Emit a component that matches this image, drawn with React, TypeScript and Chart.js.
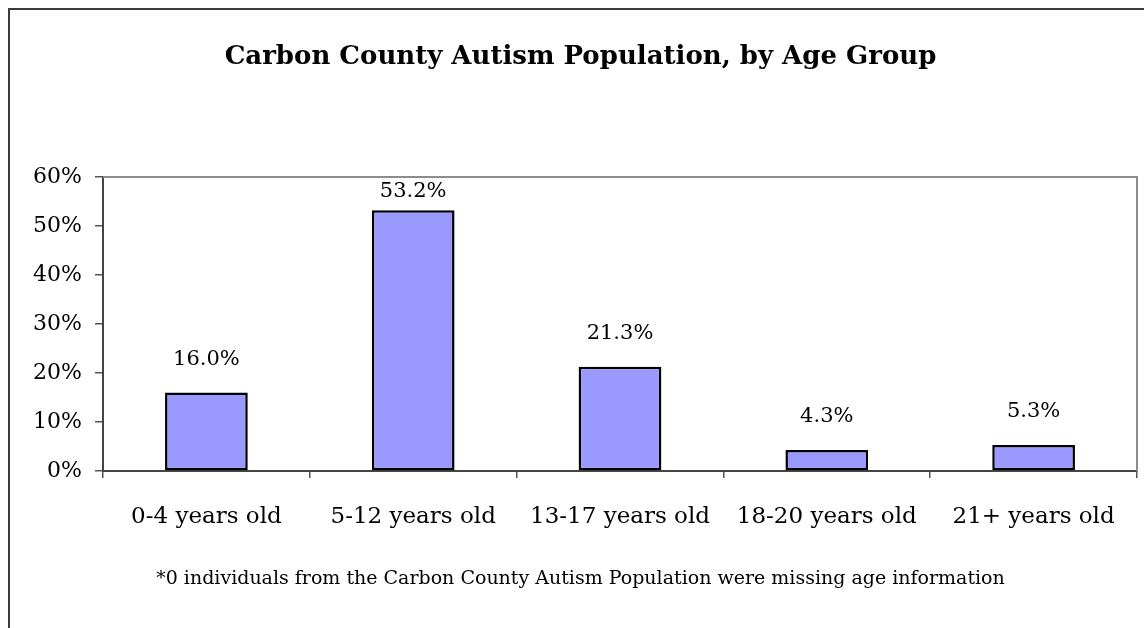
import React, { useEffect, useRef } from "react";
import { Chart, registerables } from "chart.js";

Chart.register(...registerables);

const TITLE = "Carbon County Autism Population, by Age Group";
const FOOTNOTE = "*0 individuals from the Carbon County Autism Population were missing age information";
const categories = ["0-4 years old", "5-12 years old", "13-17 years old", "18-20 years old", "21+ years old"];
const values = [16.0, 53.2, 21.3, 4.3, 5.3];
const valueLabels = ["16.0%", "53.2%", "21.3%", "4.3%", "5.3%"];
const yTicks = [0, 10, 20, 30, 40, 50, 60];

const FONT = "'DejaVu Serif', serif";

const frameAndLabels = {
  id: "frameAndLabels",
  afterDatasetsDraw(chart: any) {
    const { ctx, chartArea } = chart;
    ctx.save();
    ctx.strokeStyle = "#8c8c8c";
    ctx.lineWidth = 2;
    ctx.beginPath();
    ctx.moveTo(chartArea.left, chartArea.top);
    ctx.lineTo(chartArea.right, chartArea.top);
    ctx.lineTo(chartArea.right, chartArea.bottom);
    ctx.stroke();
    const meta = chart.getDatasetMeta(0);
    ctx.fillStyle = "#000";
    ctx.font = `21px ${FONT}`;
    ctx.textAlign = "center";
    ctx.textBaseline = "middle";
    meta.data.forEach((bar: any, i: number) => {
      const y = Math.max(bar.y - 33, chartArea.top + 15);
      ctx.fillText(valueLabels[i], bar.x, y);
    });
    ctx.restore();
  },
};

export default function App() {
  const ref = useRef<HTMLCanvasElement>(null);
  useEffect(() => {
    if (!ref.current) return;
    const chart = new Chart(ref.current, {
      type: "bar",
      data: {
        labels: categories,
        datasets: [
          {
            data: values,
            backgroundColor: "#9999FF",
            borderColor: "#000",
            borderWidth: 2.5,
            borderSkipped: false,
            categoryPercentage: 1,
            barPercentage: 0.4,
          },
        ],
      },
      options: {
        animation: false,
        responsive: false,
        maintainAspectRatio: false,
        layout: { padding: { left: 14, right: 7, top: 0, bottom: 0 } },
        plugins: {
          legend: { display: false },
          tooltip: { enabled: false },
          title: {
            display: true,
            text: TITLE,
            color: "#000",
            font: { family: FONT, size: 26, weight: "bold", lineHeight: 1.2 },
            padding: { top: 31.4, bottom: 104.4 },
          },
          subtitle: {
            display: true,
            position: "bottom",
            text: FOOTNOTE,
            color: "#000",
            font: { family: FONT, size: 19, weight: "normal", lineHeight: 1.2 },
            padding: { top: 16.6, bottom: 37.6 },
          },
        },
        scales: {
          x: {
            offset: true,
            grid: {
              offset: true,
              drawOnChartArea: false,
              drawTicks: true,
              tickLength: 7,
              color: "#555",
              lineWidth: 1.5,
            },
            border: { display: true, color: "#444", width: 2 },
            ticks: {
              color: "#000",
              padding: 25,
              maxRotation: 0,
              autoSkip: false,
              font: { family: FONT, size: 23 },
            },
            afterFit: (scale: any) => {
              scale.height = 80;
            },
          },
          y: {
            min: 0,
            max: 60,
            afterBuildTicks: (scale: any) => {
              scale.ticks = yTicks.map((v) => ({ value: v }));
            },
            grid: {
              drawOnChartArea: false,
              drawTicks: true,
              tickLength: 8,
              color: "#555",
              lineWidth: 1.5,
            },
            border: { display: true, color: "#444", width: 2 },
            ticks: {
              color: "#000",
              padding: 13,
              font: { family: FONT, size: 22 },
              callback: (v: any) => `${v}%`,
            },
            afterFit: (scale: any) => {
              scale.width = 79;
            },
          },
        },
      },
      plugins: [frameAndLabels],
    });
    return () => chart.destroy();
  }, []);

  return (
    <div
      style={{
        position: "fixed",
        left: 8,
        top: 8,
        width: 1136,
        height: 620,
        borderLeft: "2px solid #3c3c3c",
        borderTop: "2px solid #3c3c3c",
        background: "#fff",
      }}
    >
      <canvas ref={ref} width={1134} height={618} style={{ display: "block", width: 1134, height: 618 }} />
    </div>
  );
}
